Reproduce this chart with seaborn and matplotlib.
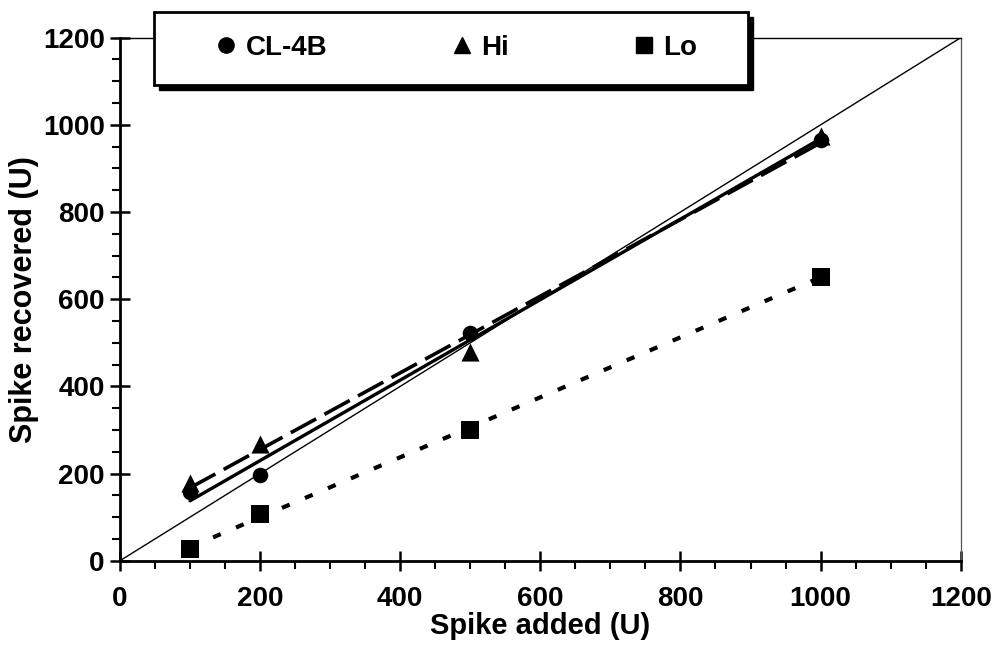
import numpy as np
import pandas as pd
import matplotlib
matplotlib.use("Agg")
import matplotlib.pyplot as plt
import seaborn as sns
from matplotlib.patches import Rectangle
from matplotlib.lines import Line2D
from matplotlib.ticker import MultipleLocator

# ---- data ----
spike_added = [100, 200, 500, 1000]
cl4b_recovered = [158, 197, 522, 965]
hi_recovered = [178, 268, 479, 975]
lo_recovered = [27, 108, 300, 652]
series_names = ["CL-4B", "Hi", "Lo"]
x_ticks = [0, 200, 400, 600, 800, 1000, 1200]
y_ticks = [0, 200, 400, 600, 800, 1000, 1200]

sns.set_style("ticks")
plt.rcParams['font.family'] = ['Liberation Sans', 'DejaVu Sans']
plt.rcParams['font.weight'] = 'bold'
plt.rcParams['text.color'] = 'black'
plt.rcParams['axes.labelcolor'] = 'black'
plt.rcParams['xtick.color'] = 'black'
plt.rcParams['ytick.color'] = 'black'
plt.rcParams['xtick.labelcolor'] = 'black'
plt.rcParams['ytick.labelcolor'] = 'black'

df = pd.DataFrame({
    "added": spike_added * 3,
    "recovered": cl4b_recovered + hi_recovered + lo_recovered,
    "series": np.repeat(series_names, len(spike_added)),
})

W, H = 994, 647
fig = plt.figure(figsize=(W / 100, H / 100), dpi=100)
ax = fig.add_axes([120 / W, 1 - 560.7 / H, (960.7 - 120) / W, (560.7 - 37.7) / H])

# identity line
ax.axline((0, 0), slope=1, color='black', lw=1.0, zorder=1)

line_styles = {
    "CL-4B": dict(linestyle='-', lw=2.4),
    "Hi": dict(linestyle=(0, (8, 2.6)), lw=2.6),
    "Lo": dict(linestyle=(0, (2, 4)), lw=3.0),
}
markers = {"CL-4B": "o", "Hi": "^", "Lo": "s"}
msizes = {"CL-4B": 125, "Hi": 170, "Lo": 165}

for name in series_names:
    sub = df[df.series == name]
    sns.regplot(data=sub, x="added", y="recovered", ci=None, scatter=False,
                truncate=True, ax=ax,
                line_kws=dict(color='black', zorder=2, **line_styles[name]))
for name in series_names:
    sub = df[df.series == name]
    sns.scatterplot(data=sub, x="added", y="recovered", marker=markers[name],
                    s=msizes[name], color='black', edgecolor='black',
                    linewidth=0, ax=ax, zorder=4, legend=False)

ax.set_xlim(0, 1200)
ax.set_ylim(0, 1200)
ax.set_xticks(x_ticks)
ax.set_yticks(y_ticks)
ax.xaxis.set_minor_locator(MultipleLocator(50))
ax.yaxis.set_minor_locator(MultipleLocator(50))
ax.tick_params(which='major', direction='inout', length=14, width=1.8,
               labelsize=20, color='black', labelcolor='black')
ax.tick_params(axis='x', which='major', pad=11)
ax.tick_params(axis='y', which='major', pad=4)
ax.tick_params(which='minor', direction='out', length=6, width=1.5, color='black')
for lab in ax.get_xticklabels() + ax.get_yticklabels():
    lab.set_fontweight('bold')

ax.set_xlabel("Spike added (U)", fontsize=21, fontweight='bold', labelpad=0, color='black')
ax.set_ylabel("Spike recovered (U)", fontsize=22, fontweight='bold', labelpad=3, color='black')

for s in ['left', 'bottom']:
    ax.spines[s].set_linewidth(2.0)
    ax.spines[s].set_color('black')
ax.spines['top'].set_linewidth(1.0)
ax.spines['top'].set_color('black')
ax.spines['right'].set_linewidth(0.9)
ax.spines['right'].set_color('#555555')

# legend frame with heavy shadow
lx0, lx1, ly0, ly1 = 154, 748, 12, 85
shadow = Rectangle(((lx0 + 5) / W, 1 - (ly1 + 5) / H), (lx1 - lx0) / W, (ly1 - ly0) / H,
                   transform=fig.transFigure, facecolor='black', edgecolor='black',
                   zorder=3)
frame = Rectangle((lx0 / W, 1 - ly1 / H), (lx1 - lx0) / W, (ly1 - ly0) / H,
                  transform=fig.transFigure, facecolor='white', edgecolor='black',
                  lw=2.0, zorder=3.5)
fig.patches.extend([shadow, frame])

handles = [Line2D([], [], linestyle='none', marker=markers[n], color='black',
                  markersize=12 if n != "CL-4B" else 11) for n in series_names]
leg = fig.legend(handles, series_names, loc='center',
                 bbox_to_anchor=(455 / W, 1 - 48 / H), ncol=3, frameon=False,
                 handlelength=1.0, handletextpad=0.2, columnspacing=4.35,
                 prop=dict(size=20, weight='bold'))
leg.set_zorder(5)
for t in leg.get_texts():
    t.set_color('black')

fig.savefig("out.png", dpi=100)
